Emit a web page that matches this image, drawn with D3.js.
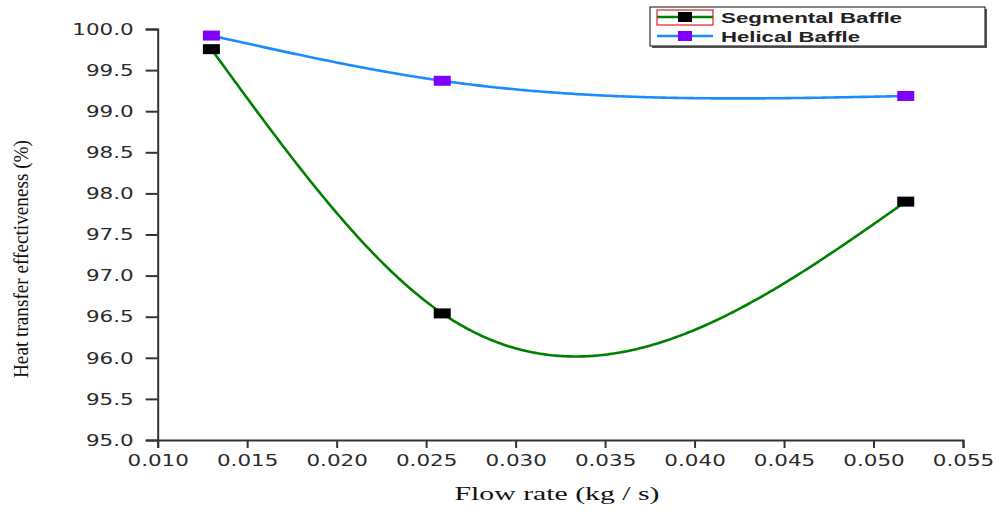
<!DOCTYPE html>
<html><head><meta charset="utf-8">
<script src="https://cdn.jsdelivr.net/npm/d3@7"></script>
<style>body{margin:0;background:#fff}svg{display:block}</style>
</head><body>
<svg id="c" width="998" height="510"></svg>
<script>
const flowRate = [0.013, 0.0259, 0.0518];
const segmental = [99.755, 96.54, 97.90];
const helical = [99.92, 99.37, 99.185];
const seriesNames = ["Segmental Baffle", "Helical Baffle"];
const xTicks = [0.010,0.015,0.020,0.025,0.030,0.035,0.040,0.045,0.050,0.055];
const yTicks = [95.0,95.5,96.0,96.5,97.0,97.5,98.0,98.5,99.0,99.5,100.0];
const xTitle = "Flow rate (kg / s)";
const yTitle = "Heat transfer effectiveness (%)";

const svg = d3.select("#c");
const x = d3.scaleLinear().domain([0.010,0.055]).range([157.7,963]);
const y = d3.scaleLinear().domain([95,100]).range([440,29]);
const axisColor = "#333";

// natural cubic spline in data space
function naturalSpline(xs, ys){
  const n = xs.length, h=[], M=new Array(n).fill(0);
  for(let i=0;i<n-1;i++) h.push(xs[i+1]-xs[i]);
  if(n>2){
    const a=[],b=[],c=[],d=[];
    for(let i=1;i<n-1;i++){
      a.push(h[i-1]); b.push(2*(h[i-1]+h[i])); c.push(h[i]);
      d.push(6*((ys[i+1]-ys[i])/h[i]-(ys[i]-ys[i-1])/h[i-1]));
    }
    const m=b.length;
    for(let i=1;i<m;i++){const w=a[i]/b[i-1];b[i]-=w*c[i-1];d[i]-=w*d[i-1];}
    const sol=new Array(m);
    sol[m-1]=d[m-1]/b[m-1];
    for(let i=m-2;i>=0;i--) sol[i]=(d[i]-c[i]*sol[i+1])/b[i];
    for(let i=0;i<m;i++) M[i+1]=sol[i];
  }
  return function(t){
    let i=0; while(i<n-2 && t>xs[i+1]) i++;
    const hi=h[i], A=(xs[i+1]-t)/hi, B=(t-xs[i])/hi;
    return A*ys[i]+B*ys[i+1]+((A*A*A-A)*M[i]+(B*B*B-B)*M[i+1])*hi*hi/6;
  };
}
function curvePts(xs, ys){
  const f=naturalSpline(xs,ys), pts=[];
  const N=300;
  for(let k=0;k<=N;k++){const t=xs[0]+(xs[xs.length-1]-xs[0])*k/N; pts.push([t,f(t)]);}
  return pts;
}
const line = d3.line().x(d=>x(d[0])).y(d=>y(d[1]));

// axes
const xAxis = svg.append("g").attr("transform","translate(0,440)")
  .call(d3.axisBottom(x).tickValues(xTicks).tickFormat(d3.format(".3f")).tickSize(8).tickPadding(5));
const yAxis = svg.append("g").attr("transform","translate(157.7,0)")
  .call(d3.axisLeft(y).tickValues(yTicks).tickFormat(d3.format(".1f")).tickSize(12).tickPadding(11));
[xAxis,yAxis].forEach(g=>{
  g.select(".domain").attr("stroke",axisColor).attr("stroke-width",2);
  g.selectAll(".tick line").attr("stroke",axisColor).attr("stroke-width",2);
  g.selectAll(".tick text").attr("fill","#2a2a2a")
    .style("font-family","'DejaVu Sans', Verdana, sans-serif").style("font-size","16.5px");
});
[xAxis,yAxis].forEach(g=>g.selectAll(".tick text").each(function(){
  const w=this.getComputedTextLength();
  d3.select(this).attr("textLength",w*1.3).attr("lengthAdjust","spacingAndGlyphs");
}));
xAxis.selectAll(".tick text").attr("dy","0.71em").attr("y",14);
yAxis.selectAll(".tick text").attr("x",-24);

// curves
const series = [
  {name:seriesNames[0], vals:segmental, line:"#008000", marker:"#000000"},
  {name:seriesNames[1], vals:helical, line:"#1a8cff", marker:"#8000ff"}
];
series.forEach(s=>{
  svg.append("path").datum(curvePts(flowRate,s.vals)).attr("d",line)
    .attr("fill","none").attr("stroke",s.line).attr("stroke-width",2.6);
});
series.slice().reverse().forEach(s=>{
  svg.append("g").selectAll("rect").data(flowRate.map((f,i)=>[f,s.vals[i]])).join("rect")
    .attr("x",d=>x(d[0])-8.5).attr("y",d=>y(d[1])-5).attr("width",17).attr("height",10)
    .attr("fill",s.marker);
});

// legend
const lg = svg.append("g");
lg.append("rect").attr("x",652).attr("y",9).attr("width",335).attr("height",39).attr("fill","#555");
lg.append("rect").attr("x",650).attr("y",7).attr("width",335).attr("height",39)
  .attr("fill","#fff").attr("stroke","#333").attr("stroke-width",1.2);
series.forEach((s,i)=>{
  const cy = 17 + i*19;
  lg.append("line").attr("x1",657).attr("x2",713).attr("y1",cy).attr("y2",cy)
    .attr("stroke",s.line).attr("stroke-width",2.4);
  lg.append("rect").attr("x",678).attr("y",cy-5).attr("width",14).attr("height",10).attr("fill",s.marker);
  lg.append("text").attr("x",721).attr("y",cy+5.5).text(s.name)
    .attr("fill","#222").style("font-family","'Liberation Sans', Arial, sans-serif")
    .style("font-size","15.5px").style("font-weight","bold")
    .attr("textLength", i===0?181:139).attr("lengthAdjust","spacingAndGlyphs");
});
lg.append("rect").attr("x",657).attr("y",10).attr("width",56).attr("height",15)
  .attr("fill","none").attr("stroke","#e02020").attr("stroke-width",1.2);

// titles
svg.append("text").attr("x",557).attr("y",500).attr("text-anchor","middle").text(xTitle)
  .attr("fill","#111").style("font-family","'Liberation Serif', 'Times New Roman', serif")
  .style("font-size","18.5px").attr("textLength",205).attr("lengthAdjust","spacingAndGlyphs");
svg.append("text").attr("transform","translate(28,259) rotate(-90)").attr("text-anchor","middle").text(yTitle)
  .attr("fill","#111").style("font-family","'Liberation Serif', 'Times New Roman', serif")
  .style("font-size","21px").attr("textLength",238).attr("lengthAdjust","spacingAndGlyphs");
</script>
</body></html>
